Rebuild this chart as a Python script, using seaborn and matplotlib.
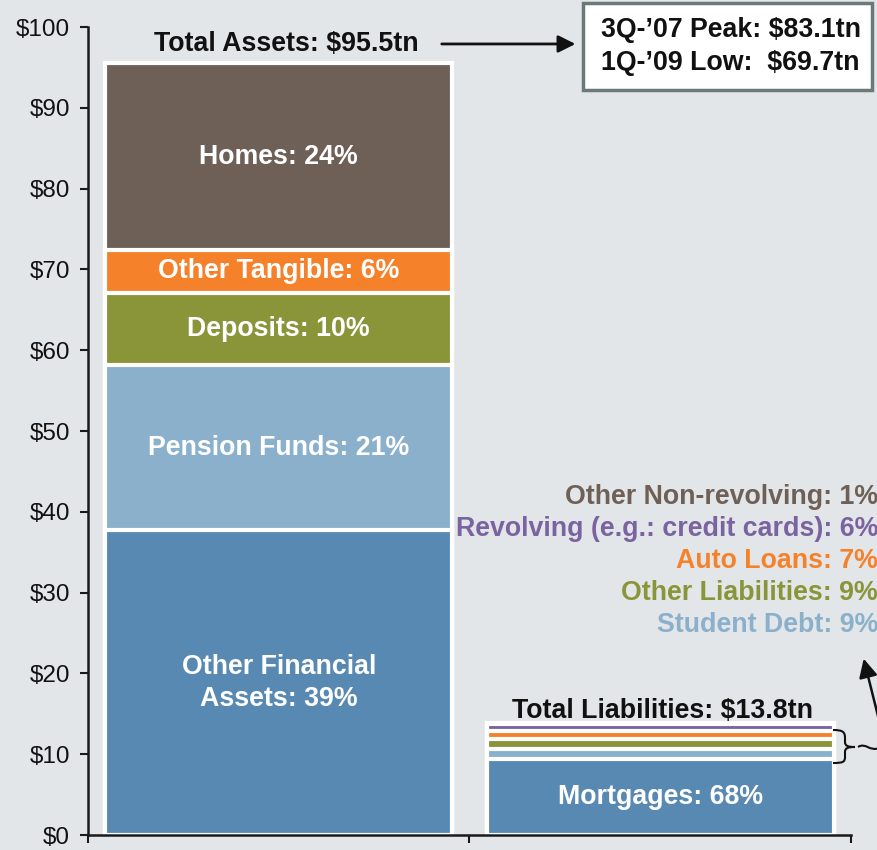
import matplotlib
matplotlib.use("Agg")
import matplotlib.pyplot as plt
import seaborn as sns
from matplotlib.path import Path
from matplotlib.patches import PathPatch, Rectangle

# household balance sheet, $tn
sides = ["Assets", "Liabilities"]

asset_names = ["Other Financial\nAssets: 39%", "Pension Funds: 21%", "Deposits: 10%",
               "Other Tangible: 6%", "Homes: 24%"]
asset_vals = [37.7, 20.5, 8.9, 5.3, 23.1]
asset_cols = ["#5889b2", "#8ab0cb", "#8a9439", "#f5822a", "#6e6057"]

liab_names = ["Mortgages: 68%", "Student Debt: 9%", "Other Liabilities: 9%", "Auto Loans: 7%",
              "Revolving (e.g.: credit cards): 6%", "Other Non-revolving: 1%"]
liab_vals = [9.4, 1.24, 1.24, 0.97, 0.83, 0.14]
liab_cols = ["#5889b2", "#8ab0cb", "#8a9439", "#f5822a", "#7a63a0", "#6e6057"]

yticks = [0, 10, 20, 30, 40, 50, 60, 70, 80, 90, 100]
ytick_labels = ["$" + str(v) for v in yticks]

bg = "#e3e6e8"
sns.set_style("ticks", {"axes.facecolor": bg, "figure.facecolor": bg})
plt.rcParams["font.family"] = ["Liberation Sans", "DejaVu Sans"]

W, H = 878, 850
FS = 19.3
fig = plt.figure(figsize=(W / 100, H / 100), dpi=100)
ax = fig.add_axes([88 / W, 15 / H, (851 - 88) / W, (835 - 27) / H])


def stack(side, vals, cols):
    # cumulative tops, drawn from the tallest down so each layer covers the one below
    tops = []
    run = 0
    for v in vals:
        run += v
        tops.append(run)
    for top, c in reversed(list(zip(tops, cols))):
        sns.barplot(x=[side], y=[top], order=sides, color=c, saturation=1, width=0.91,
                    edgecolor="white", linewidth=3, errorbar=None, ax=ax)
    return tops


a_tops = stack("Assets", asset_vals, asset_cols)
l_tops = stack("Liabilities", liab_vals, liab_cols)

# labels inside the bars
base = 0
for name, top in zip(asset_names, a_tops):
    ax.text(0, (base + top) / 2, name, ha="center", va="center", color="white",
            fontsize=FS, fontweight="bold", linespacing=1.3)
    base = top
ax.text(1, liab_vals[0] / 2, liab_names[0], ha="center", va="center", color="white",
        fontsize=FS, fontweight="bold")

ax.text(0.02, 97.9, "Total Assets: $%.1ftn" % sum(asset_vals), ha="center", va="center",
        fontsize=FS, fontweight="bold", color="#111111")
ax.text(1.005, 15.4, "Total Liabilities: $%.1ftn" % sum(liab_vals), ha="center", va="center",
        fontsize=FS, fontweight="bold", color="#111111")
ax.annotate("", xy=(0.785, 97.9), xytext=(0.42, 97.9),
            arrowprops=dict(arrowstyle="-|>", color="#111111", lw=2, mutation_scale=26),
            annotation_clip=False)

ax.set_ylim(0, 100)
ax.set_xlim(-0.5, 1.5)
ax.set_yticks(yticks)
ax.set_yticklabels(ytick_labels, fontsize=17.5, color="#111111")
ax.set_xticks([-0.5, 0.5, 1.5])
ax.set_xticklabels([])
ax.set_xlabel("")
ax.set_ylabel("")
ax.tick_params(axis="both", length=6, width=1.5, color="#1a1a1a", pad=7)
sns.despine(ax=ax)
for s in ["left", "bottom"]:
    ax.spines[s].set_linewidth(1.8)
    ax.spines[s].set_color("#1a1a1a")


def fpt(x, y):
    return (x / W, 1 - y / H)


# peak/low box
fig.add_artist(Rectangle(fpt(583, 90), 289 / W, 87 / H, transform=fig.transFigure,
                         facecolor="white", edgecolor="#6d7878", lw=2.5))
fig.text(*fpt(601, 30), "3Q-\u201907 Peak: $83.1tn", ha="left", va="center",
         fontsize=FS, fontweight="bold", color="#111111")
fig.text(*fpt(601, 63), "1Q-\u201909 Low:  $69.7tn", ha="left", va="center",
         fontsize=FS, fontweight="bold", color="#111111")

# small liability items, listed on the right
label_y = [625, 593, 561, 529, 497]
for name, c, y in zip(liab_names[1:], liab_cols[1:], label_y):
    fig.text(*fpt(878, y), name, ha="right", va="center", fontsize=FS,
             fontweight="bold", color=c)

# brace + pointer
pts = [(833, 730), (843, 730), (845, 732), (845, 738), (845, 742),
       (845, 746), (848, 747), (855, 747),
       (848, 747), (845, 748), (845, 752), (845, 757),
       (845, 762), (843, 763), (833, 763),
       (858, 747), (866, 742), (869, 752), (880, 748)]
codes = [Path.MOVETO, Path.CURVE4, Path.CURVE4, Path.CURVE4, Path.LINETO,
         Path.CURVE4, Path.CURVE4, Path.CURVE4,
         Path.CURVE4, Path.CURVE4, Path.CURVE4, Path.LINETO,
         Path.CURVE4, Path.CURVE4, Path.CURVE4,
         Path.MOVETO, Path.CURVE4, Path.CURVE4, Path.CURVE4]
brace = Path([fpt(x, y) for x, y in pts], codes)
fig.add_artist(PathPatch(brace, transform=fig.transFigure, fill=False, lw=1.5, color="#111111"))
fig.add_artist(matplotlib.patches.FancyArrowPatch(
    fpt(884, 740), fpt(863, 656), transform=fig.transFigure, arrowstyle="-|>",
    mutation_scale=28, lw=1.8, color="#111111"))

fig.savefig("out.png", dpi=100, facecolor=bg)
